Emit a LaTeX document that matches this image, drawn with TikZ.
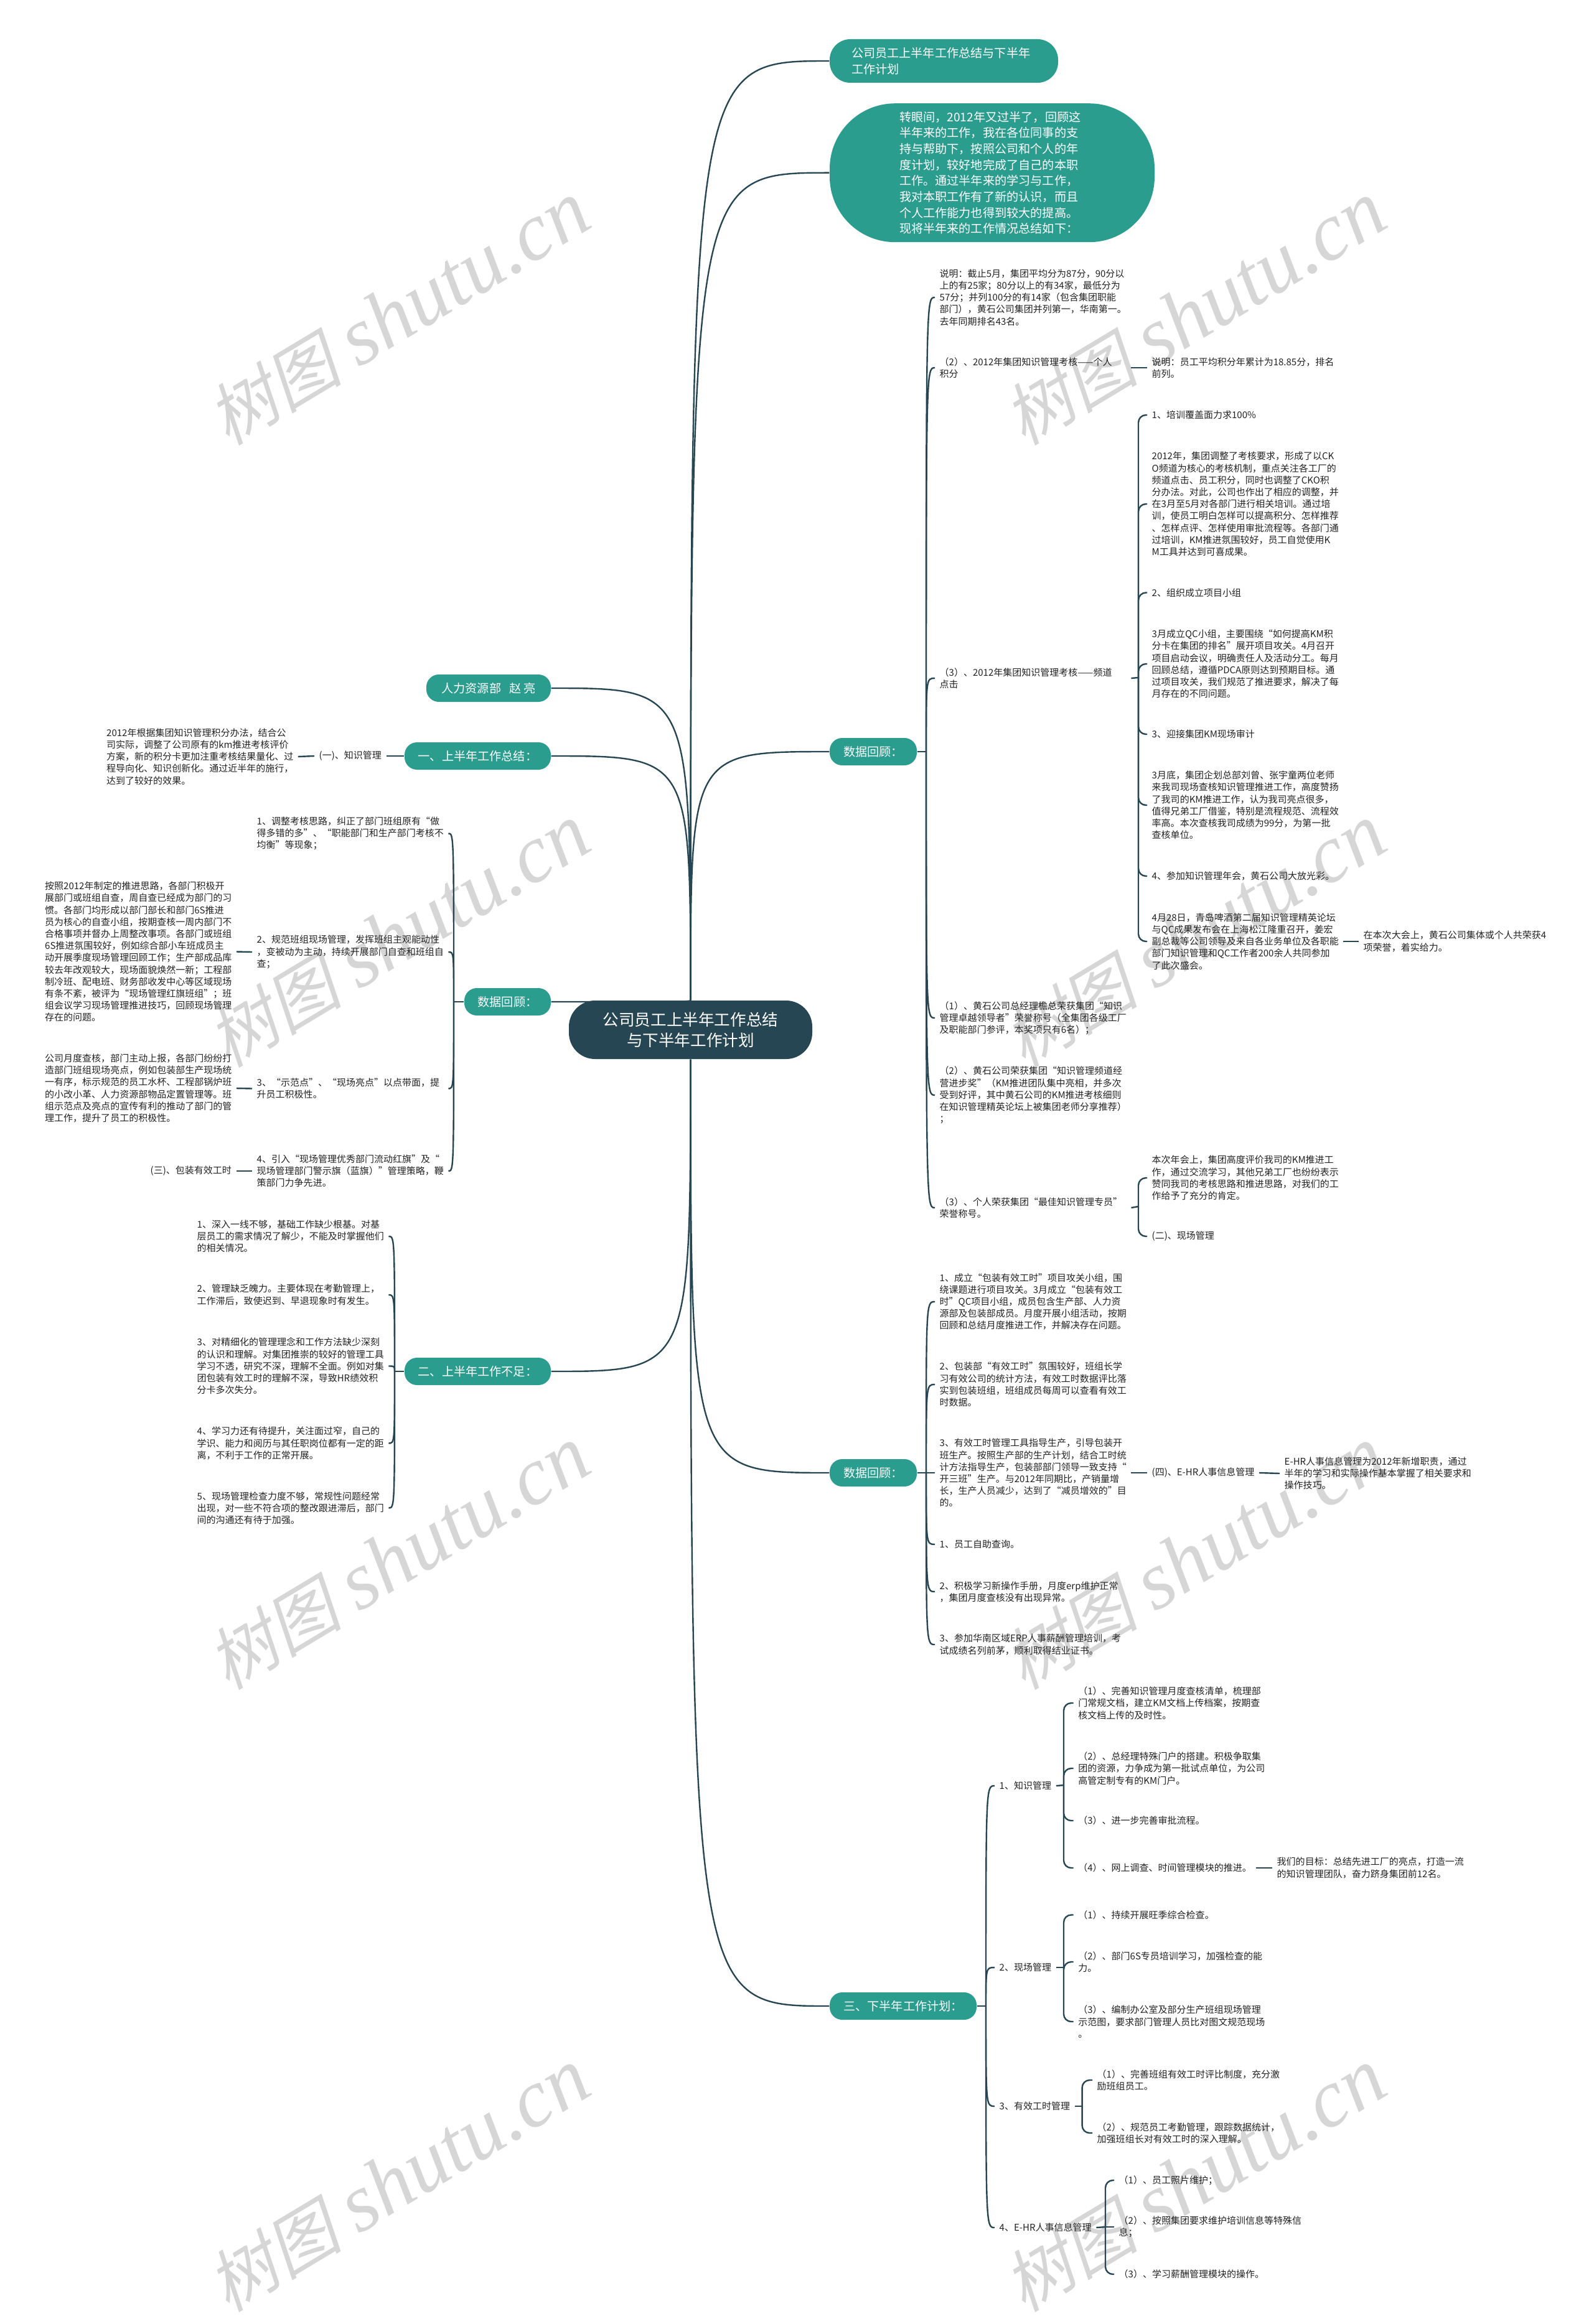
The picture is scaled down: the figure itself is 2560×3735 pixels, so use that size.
\documentclass[tikz,border=0pt]{standalone}
\usepackage{fontspec}
\setmainfont{Noto Sans CJK SC}
\newfontfamily\stampcjk[FakeSlant=0.22]{Noto Sans CJK SC}
\newfontfamily\stamplatin{Liberation Serif}
\definecolor{deepblue}{HTML}{264653}
\definecolor{seagreen}{HTML}{2A9D8F}
\definecolor{stampgray}{HTML}{D6D6D6}
\definecolor{bodytext}{HTML}{222222}
\tikzset{
	root/.style={fill=deepblue, text=white, align=center, rounded corners=4.2mm, minimum width=39.1mm, minimum height=9.4mm, inner sep=0pt, font=\fontsize{7.28pt}{9.4pt}\selectfont},
	topic/.style={fill=seagreen, text=white, rounded corners=2mm, minimum height=4.4mm, inner sep=0pt, font=\fontsize{5.45pt}{7.3pt}\selectfont},
	leaf/.style={anchor=west, align=left, text=bodytext, inner xsep=0.7mm, inner ysep=0pt, font=\fontsize{4.27pt}{5.46pt}\selectfont},
	para/.style={leaf, text width=30mm},
	link/.style={draw=deepblue, line width=0.24mm},
	brace/.style={link, rounded corners=1.2mm},
	stamp/.style={text=stampgray, rotate=31, inner sep=0pt}
}
\newcommand{\stamptext}{{\stampcjk\fontsize{31pt}{31pt}\selectfont 树图}\hspace{8pt}{\stamplatin\itshape\fontsize{37.5pt}{37.5pt}\selectfont shutu.cn}}
\begin{document}
\begin{tikzpicture}[x=0.1mm, y=-0.1mm]
	\useasboundingbox (0,0) rectangle (2560,3735);
	\node[stamp] (wm1) at (640,505) {\stamptext};
	\node[stamp] (wm2) at (1919,505) {\stamptext};
	\node[stamp] (wm3) at (640,1505) {\stamptext};
	\node[stamp] (wm4) at (1919,1505) {\stamptext};
	\node[stamp] (wm5) at (640,2505) {\stamptext};
	\node[stamp] (wm6) at (1919,2505) {\stamptext};
	\node[stamp] (wm7) at (640,3505) {\stamptext};
	\node[stamp] (wm8) at (1919,3505) {\stamptext};

	\node[root] (root) at (1109.5,1655) {公司员工上半年工作总结\\与下半年工作计划};

	% right side
	\node[topic, minimum width=36.7mm, minimum height=7mm, rounded corners=3.3mm, align=left, text width=29.7mm] (title) at (1516.5,98) {公司员工上半年工作总结与下半年\\工作计划};
	\node[topic, minimum width=52.2mm, minimum height=22.3mm, rounded corners=10.5mm, align=left, text width=29.8mm] (intro) at (1594,277.7) {转眼间，2012年又过半了，回顾这\\半年来的工作，我在各位同事的支\\持与帮助下，按照公司和个人的年\\度计划，较好地完成了自己的本职\\工作。通过半年来的学习与工作，\\我对本职工作有了新的认识，而且\\个人工作能力也得到较大的提高。\\现将半年来的工作情况总结如下：};
	\node[topic, minimum width=14mm] (dataA) at (1403,1208) {数据回顾：};
	\node[topic, minimum width=14mm] (dataB) at (1403,2367) {数据回顾：};
	\node[topic, minimum width=23.6mm] (plan) at (1451,3224) {三、下半年工作计划：};
	\coordinate (tA) at (1488,1208);
	\coordinate (tB) at (1488,2367);
	\coordinate (tPlan) at (1584,3224);

	\node[para] (note) at (1502,478) {说明：截止5月，集团平均分为87分，90分以\\上的有25家；80分以上的有34家，最低分为\\57分；并列100分的有14家（包含集团职能\\部门），黄石公司集团并列第一，华南第一。\\去年同期排名43名。};
	\node[para] (indiv) at (1502,591) {（2）、2012年集团知识管理考核——个人\\积分};
	\node[para] (indivNote) at (1843,591) {说明：员工平均积分年累计为18.85分，排名\\前列。};
	\node[para] (channel) at (1502,1090) {（3）、2012年集团知识管理考核——频道\\点击};
	\coordinate (tChan) at (1829,1089);
	\node[leaf] (cover) at (1843,667) {1、培训覆盖面力求100\%};
	\node[para] (coverTxt) at (1843,810) {2012年，集团调整了考核要求，形成了以CK\\O频道为核心的考核机制，重点关注各工厂的\\频道点击、员工积分，同时也调整了CKO积\\分办法。对此，公司也作出了相应的调整，并\\在3月至5月对各部门进行相关培训。通过培\\训，使员工明白怎样可以提高积分、怎样推荐\\、怎样点评、怎样使用审批流程等。各部门通\\过培训，KM推进氛围较好，员工自觉使用K\\M工具并达到可喜成果。};
	\node[leaf] (group) at (1843,952.5) {2、组织成立项目小组};
	\node[para] (groupTxt) at (1843,1067) {3月成立QC小组，主要围绕“如何提高KM积\\分卡在集团的排名”展开项目攻关。4月召开\\项目启动会议，明确责任人及活动分工。每月\\回顾总结，遵循PDCA原则达到预期目标。通\\过项目攻关，我们规范了推进要求，解决了每\\月存在的不同问题。};
	\node[leaf] (audit) at (1843,1180) {3、迎接集团KM现场审计};
	\node[para] (auditTxt) at (1843,1294) {3月底，集团企划总部刘曾、张宇童两位老师\\来我司现场查核知识管理推进工作，高度赞扬\\了我司的KM推进工作，认为我司亮点很多，\\值得兄弟工厂借鉴，特别是流程规范、流程效\\率高。本次查核我司成绩为99分，为第一批\\查核单位。};
	\node[leaf] (meet) at (1843,1408) {4、参加知识管理年会，黄石公司大放光彩。};
	\node[para] (meetTxt) at (1843,1513) {4月28日，青岛啤酒第二届知识管理精英论坛\\与QC成果发布会在上海松江隆重召开，姜宏\\副总裁等公司领导及来自各业务单位及各职能\\部门知识管理和QC工作者200余人共同参加\\了此次盛会。};
	\node[para] (meetNote) at (2183,1513) {在本次大会上，黄石公司集体或个人共荣获4\\项荣誉，着实给力。};
	\node[para] (award1) at (1502,1636) {（1）、黄石公司总经理檐总荣获集团“知识\\管理卓越领导者”荣誉称号（全集团各级工厂\\及职能部门参评，本奖项只有6名）；};
	\node[para] (award2) at (1502,1760) {（2）、黄石公司荣获集团“知识管理频道经\\营进步奖”（KM推进团队集中亮相，并多次\\受到好评，其中黄石公司的KM推进考核细则\\在知识管理精英论坛上被集团老师分享推荐）\\；};
	\node[para] (award3) at (1502,1941) {（3）、个人荣获集团“最佳知识管理专员”\\荣誉称号。};
	\coordinate (tAward) at (1829,1939);
	\node[para] (awardTxt) at (1843,1893) {本次年会上，集团高度评价我司的KM推进工\\作，通过交流学习，其他兄弟工厂也纷纷表示\\赞同我司的考核思路和推进思路，对我们的工\\作给予了充分的肯定。};
	\node[leaf] (site) at (1843,1987) {(二)、现场管理};

	\node[para] (pack1) at (1502,2092) {1、成立“包装有效工时”项目攻关小组，围\\绕课题进行项目攻关。3月成立“包装有效工\\时”QC项目小组，成员包含生产部、人力资\\源部及包装部成员。月度开展小组活动，按期\\回顾和总结月度推进工作，并解决存在问题。};
	\node[para] (pack2) at (1502,2225) {2、包装部“有效工时”氛围较好，班组长学\\习有效公司的统计方法，有效工时数据评比落\\实到包装班组，班组成员每周可以查看有效工\\时数据。};
	\node[para] (pack3) at (1502,2367) {3、有效工时管理工具指导生产，引导包装开\\班生产。按照生产部的生产计划，结合工时统\\计方法指导生产，包装部部门领导一致支持“\\开三班”生产。与2012年同期比，产销量增\\长，生产人员减少，达到了“减员增效的”目\\的。};
	\node[leaf] (ehr) at (1843,2367) {(四)、E-HR人事信息管理};
	\node[para] (ehrNote) at (2056,2368) {E-HR人事信息管理为2012年新增职责，通过\\半年的学习和实际操作基本掌握了相关要求和\\操作技巧。};
	\node[leaf] (self) at (1502,2482) {1、员工自助查询。};
	\node[para] (erp1) at (1502,2558) {2、积极学习新操作手册，月度erp维护正常\\，集团月度查核没有出现异常。};
	\node[para] (erp2) at (1502,2643) {3、参加华南区域ERP人事薪酬管理培训，考\\试成绩名列前茅，顺利取得结业证书。};

	\node[leaf] (planKm) at (1598,2870) {1、知识管理};
	\coordinate (tKm) at (1709,2869);
	\node[para] (km1) at (1724.6,2737) {（1）、完善知识管理月度查核清单，梳理部\\门常规文档，建立KM文档上传档案，按期查\\核文档上传的及时性。};
	\node[para] (km2) at (1724.6,2842) {（2）、总经理特殊门户的搭建。积极争取集\\团的资源，力争成为第一批试点单位，为公司\\高管定制专有的KM门户。};
	\node[leaf] (km3) at (1724.6,2926) {（3）、进一步完善审批流程。};
	\node[leaf] (km4) at (1724.6,3002) {（4）、网上调查、时间管理模块的推进。};
	\node[para] (kmGoal) at (2044,3002) {我们的目标：总结先进工厂的亮点，打造一流\\的知识管理团队，奋力跻身集团前12名。};
	\node[leaf] (planSite) at (1598,3162) {2、现场管理};
	\coordinate (tSite) at (1709,3162);
	\node[leaf] (site1) at (1724.6,3077.5) {（1）、持续开展旺季综合检查。};
	\node[para] (site2) at (1724.6,3153) {（2）、部门6S专员培训学习，加强检查的能\\力。};
	\node[para] (site3) at (1724.6,3249) {（3）、编制办公室及部分生产班组现场管理\\示范图，要求部门管理人员比对图文规范现场\\。};
	\node[leaf] (planHour) at (1598,3385) {3、有效工时管理};
	\coordinate (tHour) at (1738.6,3385);
	\node[para] (hour1) at (1755,3343) {（1）、完善班组有效工时评比制度，充分激\\励班组员工。};
	\node[para] (hour2) at (1755,3428) {（2）、规范员工考勤管理，跟踪数据统计，\\加强班组长对有效工时的深入理解。};
	\node[leaf] (planEhr) at (1598,3580) {4、E-HR人事信息管理};
	\coordinate (tEhr) at (1776,3579);
	\node[leaf] (ehr1) at (1790,3504) {（1）、员工照片维护；};
	\node[para] (ehr2) at (1790,3579) {（2）、按照集团要求维护培训信息等特殊信\\息；};
	\node[leaf] (ehr3) at (1790,3655) {（3）、学习薪酬管理模块的操作。};

	% left side
	\node[topic, minimum width=20mm] (hr) at (785,1106) {人力资源部\ \ \ 赵 亮};
	\node[topic, minimum width=23.5mm] (summary) at (767.5,1215) {一、上半年工作总结：};
	\node[topic, minimum width=13.9mm] (review) at (815.5,1610) {数据回顾：};
	\node[topic, minimum width=23.5mm] (lack) at (767.5,2204) {二、上半年工作不足：};
	\coordinate (tRev) at (729,1610);
	\coordinate (tLack) at (634,2204);

	\node[leaf] (kmLeft) at (505,1215) {(一)、知识管理};
	\node[para] (kmTxt) at (163.5,1216) {2012年根据集团知识管理积分办法，结合公\\司实际，调整了公司原有的km推进考核评价\\方案，新的积分卡更加注重考核结果量化、过\\程导向化、知识创新化。通过近半年的施行，\\达到了较好的效果。};
	\node[para] (rev1) at (405,1339.5) {1、调整考核思路，纠正了部门班组原有“做\\得多错的多”、“职能部门和生产部门考核不\\均衡”等现象；};
	\node[para] (rev2) at (405,1530) {2、规范班组现场管理，发挥班组主观能动性\\，变被动为主动，持续开展部门自查和班组自\\查；};
	\node[para] (rev2Txt) at (64.5,1529.5) {按照2012年制定的推进思路，各部门积极开\\展部门或班组自查，周自查已经成为部门的习\\惯。各部门均形成以部门部长和部门6S推进\\员为核心的自查小组，按期查核一周内部门不\\合格事项并督办上周整改事项。各部门或班组\\6S推进氛围较好，例如综合部小车班成员主\\动开展季度现场管理回顾工作；生产部成品库\\较去年改观较大，现场面貌焕然一新；工程部\\制冷班、配电班、财务部收发中心等区域现场\\有条不紊，被评为“现场管理红旗班组”；班\\组会议学习现场管理推进技巧，回顾现场管理\\存在的问题。};
	\node[para] (rev3) at (405,1749.5) {3、“示范点”、“现场亮点”以点带面，提\\升员工积极性。};
	\node[para] (rev3Txt) at (64.5,1749) {公司月度查核，部门主动上报，各部门纷纷打\\造部门班组现场亮点，例如包装部生产现场统\\一有序，标示规范的员工水杯、工程部锅炉班\\的小改小革、人力资源部物品定置管理等。班\\组示范点及亮点的宣传有利的推动了部门的管\\理工作，提升了员工的积极性。};
	\node[para] (rev4) at (405,1882) {4、引入“现场管理优秀部门流动红旗”及“\\现场管理部门警示旗（蓝旗）”管理策略，鞭\\策部门力争先进。};
	\node[leaf] (rev4Txt) at (234,1882) {(三)、包装有效工时};
	\node[para] (lack1) at (309,1987) {1、深入一线不够，基础工作缺少根基。对基\\层员工的需求情况了解少，不能及时掌握他们\\的相关情况。};
	\node[para] (lack2) at (309,2081) {2、管理缺乏魄力。主要体现在考勤管理上，\\工作滞后，致使迟到、早退现象时有发生。};
	\node[para] (lack3) at (309,2195.5) {3、对精细化的管理理念和工作方法缺少深刻\\的认识和理解。对集团推崇的较好的管理工具\\学习不透，研究不深，理解不全面。例如对集\\团包装有效工时的理解不深，导致HR绩效积\\分卡多次失分。};
	\node[para] (lack4) at (309,2319.5) {4、学习力还有待提升，关注面过窄，自己的\\学识、能力和阅历与其任职岗位都有一定的距\\离，不利于工作的正常开展。};
	\node[para] (lack5) at (309,2423.5) {5、现场管理检查力度不够，常规性问题经常\\出现，对一些不符合项的整改跟进滞后，部门\\间的沟通还有待于加强。};

	% from the root
	\draw[link] (root.north) .. controls (root.north |- title.west) .. (title.west);
	\draw[link] (root.north) .. controls (root.north |- intro.west) .. (intro.west);
	\draw[link] (root.north) .. controls (root.north |- dataA.west) .. (dataA.west);
	\draw[link] (root.south) .. controls (root.south |- dataB.west) .. (dataB.west);
	\draw[link] (root.south) .. controls (root.south |- plan.west) .. (plan.west);
	\draw[link] (root.north) .. controls (root.north |- hr.east) .. (hr.east);
	\draw[link] (root.north) .. controls (root.north |- summary.east) .. (summary.east);
	\draw[link] (root.north) .. controls (root.north |- review.east) .. (review.east);
	\draw[link] (root.south) .. controls (root.south |- lack.east) .. (lack.east);

	% first data branch
	\draw[link] (dataA.east) -- (tA);
	\draw[link] (tA) .. controls (tA |- note.west) .. (note.west);
	\draw[link] (tA) .. controls (tA |- indiv.west) .. (indiv.west);
	\draw[link] (tA) .. controls (tA |- channel.west) .. (channel.west);
	\draw[link] (tA) .. controls (tA |- award1.west) .. (award1.west);
	\draw[link] (tA) .. controls (tA |- award2.west) .. (award2.west);
	\draw[link] (tA) .. controls (tA |- award3.west) .. (award3.west);
	\draw[link] (indiv.east) -- (indivNote.west);
	\draw[link] (channel.east) -- (tChan);
	\draw[brace] (tChan) |- (cover.west);
	\draw[brace] (tChan) |- (coverTxt.west);
	\draw[brace] (tChan) |- (group.west);
	\draw[brace] (tChan) |- (groupTxt.west);
	\draw[brace] (tChan) |- (audit.west);
	\draw[brace] (tChan) |- (auditTxt.west);
	\draw[brace] (tChan) |- (meet.west);
	\draw[brace] (tChan) |- (meetTxt.west);
	\draw[link] (meetTxt.east) -- (meetNote.west);
	\draw[link] (award3.east) -- (tAward);
	\draw[brace] (tAward) |- (awardTxt.west);
	\draw[brace] (tAward) |- (site.west);

	% second data branch
	\draw[link] (dataB.east) -- (tB);
	\draw[link] (tB) .. controls (tB |- pack1.west) .. (pack1.west);
	\draw[link] (tB) .. controls (tB |- pack2.west) .. (pack2.west);
	\draw[link] (tB) -- (pack3.west);
	\draw[link] (tB) .. controls (tB |- self.west) .. (self.west);
	\draw[link] (tB) .. controls (tB |- erp1.west) .. (erp1.west);
	\draw[link] (tB) .. controls (tB |- erp2.west) .. (erp2.west);
	\draw[link] (pack3.east) -- (ehr.west);
	\draw[link] (ehr.east) -- (ehrNote.west);

	% plan branch
	\draw[link] (plan.east) -- (tPlan);
	\draw[link] (tPlan) .. controls (tPlan |- planKm.west) .. (planKm.west);
	\draw[link] (tPlan) .. controls (tPlan |- planSite.west) .. (planSite.west);
	\draw[link] (tPlan) .. controls (tPlan |- planHour.west) .. (planHour.west);
	\draw[link] (tPlan) .. controls (tPlan |- planEhr.west) .. (planEhr.west);
	\draw[link] (planKm.east) -- (tKm);
	\draw[brace] (tKm) |- (km1.west);
	\draw[brace] (tKm) |- (km2.west);
	\draw[brace] (tKm) |- (km3.west);
	\draw[brace] (tKm) |- (km4.west);
	\draw[link] (km4.east) -- (kmGoal.west);
	\draw[link] (planSite.east) -- (tSite);
	\draw[brace] (tSite) |- (site1.west);
	\draw[brace] (tSite) |- (site2.west);
	\draw[brace] (tSite) |- (site3.west);
	\draw[link] (planHour.east) -- (tHour);
	\draw[brace] (tHour) |- (hour1.west);
	\draw[brace] (tHour) |- (hour2.west);
	\draw[link] (planEhr.east) -- (tEhr);
	\draw[brace] (tEhr) |- (ehr1.west);
	\draw[link] (tEhr) -- (ehr2.west);
	\draw[brace] (tEhr) |- (ehr3.west);

	% left branches
	\draw[link] (summary.west) -- (kmLeft.east);
	\draw[link] (kmLeft.west) -- (kmTxt.east);
	\draw[link] (review.west) -- (tRev);
	\draw[link] (tRev) .. controls (tRev |- rev1.east) .. (rev1.east);
	\draw[link] (tRev) .. controls (tRev |- rev2.east) .. (rev2.east);
	\draw[link] (tRev) .. controls (tRev |- rev3.east) .. (rev3.east);
	\draw[link] (tRev) .. controls (tRev |- rev4.east) .. (rev4.east);
	\draw[link] (rev2.west) -- (rev2Txt.east);
	\draw[link] (rev3.west) -- (rev3Txt.east);
	\draw[link] (rev4.west) -- (rev4Txt.east);
	\draw[link] (lack.west) -- (tLack);
	\draw[link] (tLack) .. controls (tLack |- lack1.east) .. (lack1.east);
	\draw[link] (tLack) .. controls (tLack |- lack2.east) .. (lack2.east);
	\draw[link] (tLack) .. controls (tLack |- lack3.east) .. (lack3.east);
	\draw[link] (tLack) .. controls (tLack |- lack4.east) .. (lack4.east);
	\draw[link] (tLack) .. controls (tLack |- lack5.east) .. (lack5.east);
\end{tikzpicture}
\end{document}
